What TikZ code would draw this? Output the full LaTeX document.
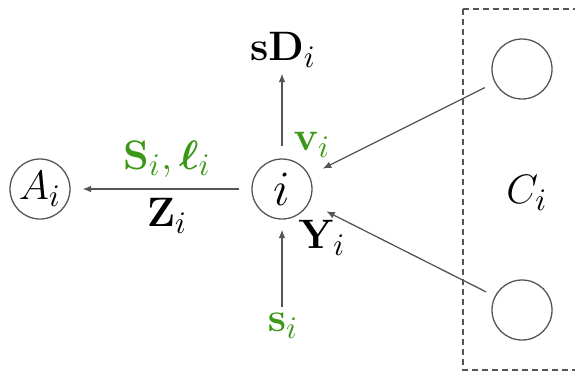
\documentclass[tikz,border=0pt]{standalone}
\usepackage{amsmath,bm}
\usetikzlibrary{arrows.meta}
\definecolor{lgreen}{RGB}{58,152,22}
\definecolor{lgray}{RGB}{85,85,85}
\newcommand{\labsize}{\fontsize{15.5}{18}\selectfont}
\tikzset{
  vtx/.style={circle,draw=lgray,line width=0.45pt,minimum size=21pt,inner sep=0pt,font=\labsize},
  lbl/.style={font=\labsize,inner sep=1pt},
  glbl/.style={lbl,text=lgreen},
  arr/.style={draw=lgray,line width=0.45pt,-{Latex[length=3pt,width=2.4pt]}},
}
\begin{document}
\begin{tikzpicture}[x=0.35pt,y=-0.35pt]
\clip (0,0) rectangle (575,370);
\node[vtx] (A) at (40,189) {$A_i$};
\node[vtx,font=\LARGE] (i) at (282,189) {$i$};
\node[vtx] (c1) at (522,69) {};
\node[vtx] (c2) at (522,310) {};
\node[lbl] (sD) at (283,50) {$\mathbf{sD}_i$};
\node[glbl] (v) at (312,145) {$\mathbf{v}_i$};
\node[glbl] (s) at (283,326) {$\mathbf{s}_i$};
\node[lbl] (Y) at (322,238) {$\mathbf{Y}_i$};
\node[glbl] (Sl) at (167,159) {$\mathbf{S}_i,\bm{\ell}_i$};
\node[lbl] (Z) at (167,216) {$\mathbf{Z}_i$};
\node[lbl] (C) at (527,193) {$C_i$};
\draw[lgray,line width=0.45pt,dash pattern=on 2pt off 1.5pt] (463,9) rectangle (600,370);
\draw[arr,shorten <=4.5pt,shorten >=1pt] (i) -- (i|-sD.south);
\draw[arr,shorten <=1pt,shorten >=3.5pt] (i|-s.north) -- (i);
\draw[arr,shorten <=4.2pt,shorten >=4.2pt] (i) -- (A);
\draw[arr,shorten <=3.8pt,shorten >=5.2pt] (c1) -- (i);
\draw[arr,shorten <=3.3pt,shorten >=6.6pt] (c2) -- (i);
\end{tikzpicture}
\end{document}
